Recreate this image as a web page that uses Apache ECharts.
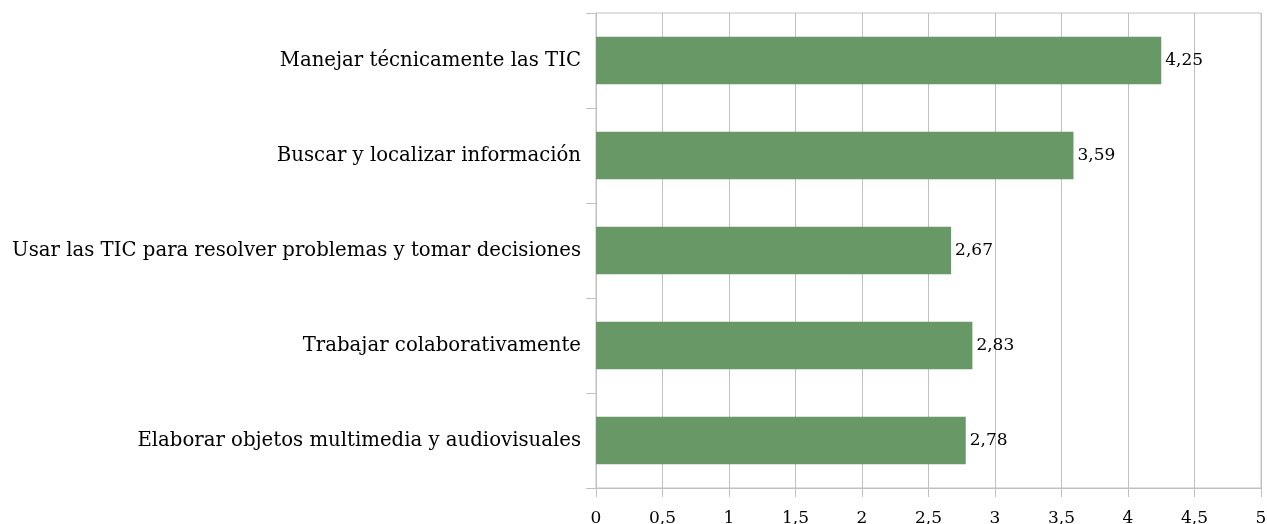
<!DOCTYPE html>
<html><head><meta charset="utf-8">
<script src="https://cdn.jsdelivr.net/npm/echarts@6/dist/echarts.min.js"></script>
<style>html,body{margin:0;padding:0;background:#fff}#c{width:1267px;height:524px}</style>
</head><body><div id="c"></div>
<script>
const categories = [
  "Manejar técnicamente las TIC",
  "Buscar y localizar información",
  "Usar las TIC para resolver problemas y tomar decisiones",
  "Trabajar colaborativamente",
  "Elaborar objetos multimedia y audiovisuales"
];
const values = [4.25, 3.59, 2.67, 2.83, 2.78];
const fmt = v => String(v).replace('.', ',');
const serif = '"DejaVu Serif", "Liberation Serif", serif';
const chart = echarts.init(document.getElementById('c'));
chart.setOption({
  animation: false,
  grid: { left: 596, right: 6, top: 13, bottom: 36, show: true, borderColor: '#c0c0c0', borderWidth: 1, containLabel: false, outerBoundsMode: 'none' },
  xAxis: {
    type: 'value', min: 0, max: 5, interval: 0.5,
    axisLine: { show: true, lineStyle: { color: '#c0c0c0', width: 1 } },
    axisTick: { show: true, length: 9, lineStyle: { color: '#c0c0c0' } },
    splitLine: { show: true, lineStyle: { color: '#c0c0c0', width: 1 } },
    axisLabel: { color: '#000', fontFamily: serif, fontSize: 17, margin: 22, formatter: v => fmt(v) }
  },
  yAxis: {
    type: 'category', data: categories, inverse: true,
    axisLine: { show: true, lineStyle: { color: '#c0c0c0', width: 1 } },
    axisTick: { show: true, length: 10, lineStyle: { color: '#c0c0c0' } },
    axisLabel: { color: '#000', fontFamily: serif, fontSize: 19.7, margin: 15 }
  },
  series: [{
    type: 'bar', data: values, barWidth: '50%',
    itemStyle: { color: '#679866' },
    label: { show: true, position: 'right', distance: 4, color: '#000', fontFamily: serif, fontSize: 17, formatter: p => fmt(p.value) }
  }]
});
</script></body></html>
